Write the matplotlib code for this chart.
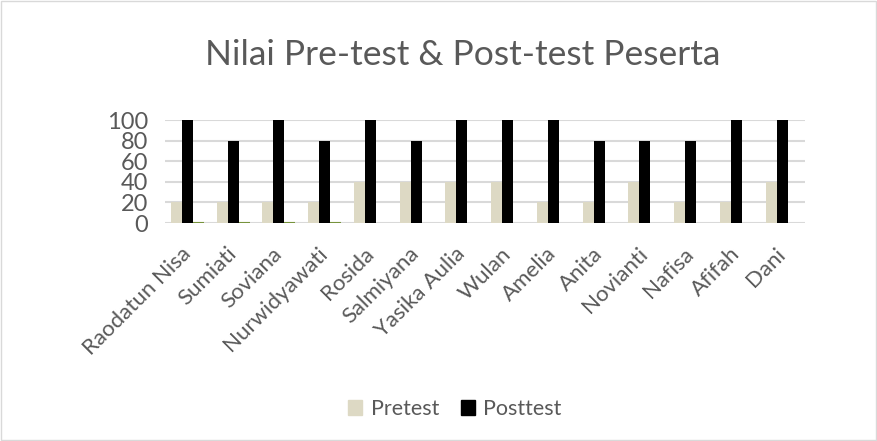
import numpy as np
import matplotlib.pyplot as plt
from matplotlib.patches import Rectangle

names = ['Raodatun Nisa', 'Sumiati', 'Soviana', 'Nurwidyawati', 'Rosida', 'Salmiyana',
         'Yasika Aulia', 'Wulan', 'Amelia', 'Anita', 'Novianti', 'Nafisa', 'Afifah', 'Dani']
pretest = [20, 20, 20, 20, 40, 40, 40, 40, 20, 20, 40, 20, 20, 40]
posttest = [100, 80, 100, 80, 100, 80, 100, 100, 100, 80, 80, 80, 100, 100]
# third series only filled for the first four rows (all zero)
extra = [0, 0, 0, 0]
yticks = [0, 20, 40, 60, 80, 100]

plt.rcParams['font.family'] = ['Lato', 'DejaVu Sans']

fig = plt.figure(figsize=(8.78, 4.41), dpi=100)
fig.patches.append(Rectangle((0.001, 0.002), 0.997, 0.995, transform=fig.transFigure,
                             fill=False, edgecolor='#D9D9D9', linewidth=1))
ax = fig.add_axes([164.6 / 878, 1 - 223 / 441, (805 - 164.6) / 878, 103 / 441])

x = np.arange(len(names))
w = 0.24
ax.bar(x - w, pretest, width=w, color='#DDD9C4', zorder=3)
ax.bar(x, posttest, width=w, color='black', zorder=3)
ax.bar(x[:len(extra)] + w, extra, width=w, color='#77933C',
       edgecolor='#77933C', linewidth=1.5, zorder=3)

ax.set_ylim(0, 100)
ax.set_xlim(-0.5, len(names) - 0.5)
ax.set_yticks(yticks)
ax.set_yticklabels([str(v) for v in yticks], fontsize=17, color='#595959')
ax.set_xticks(x)
ax.set_xticklabels(names, rotation=45, ha='right', va='center', rotation_mode='anchor',
                   fontsize=16, color='#595959')
ax.tick_params(length=0, pad=12)
ax.tick_params(axis='x', pad=20)
ax.grid(axis='y', color='#D9D9D9', linewidth=1.5, zorder=0)
for s in ax.spines.values():
    s.set_visible(False)

fig.text(0.527, 1 - 55 / 441, 'Nilai Pre-test & Post-test Peserta', ha='center', va='center',
         fontsize=25.5, color='#595959')

h1 = Rectangle((0, 0), 1, 1, color='#DDD9C4')
h2 = Rectangle((0, 0), 1, 1, color='black')
fig.legend([h1, h2], ['Pretest', 'Posttest'], loc='center', bbox_to_anchor=(455 / 878, 1 - 409 / 441),
           ncol=2, frameon=False, fontsize=15.5, handlelength=0.65, handleheight=0.65,
           columnspacing=1.0, handletextpad=0.4, labelcolor='#595959')

fig.savefig('out.png', dpi=100)
